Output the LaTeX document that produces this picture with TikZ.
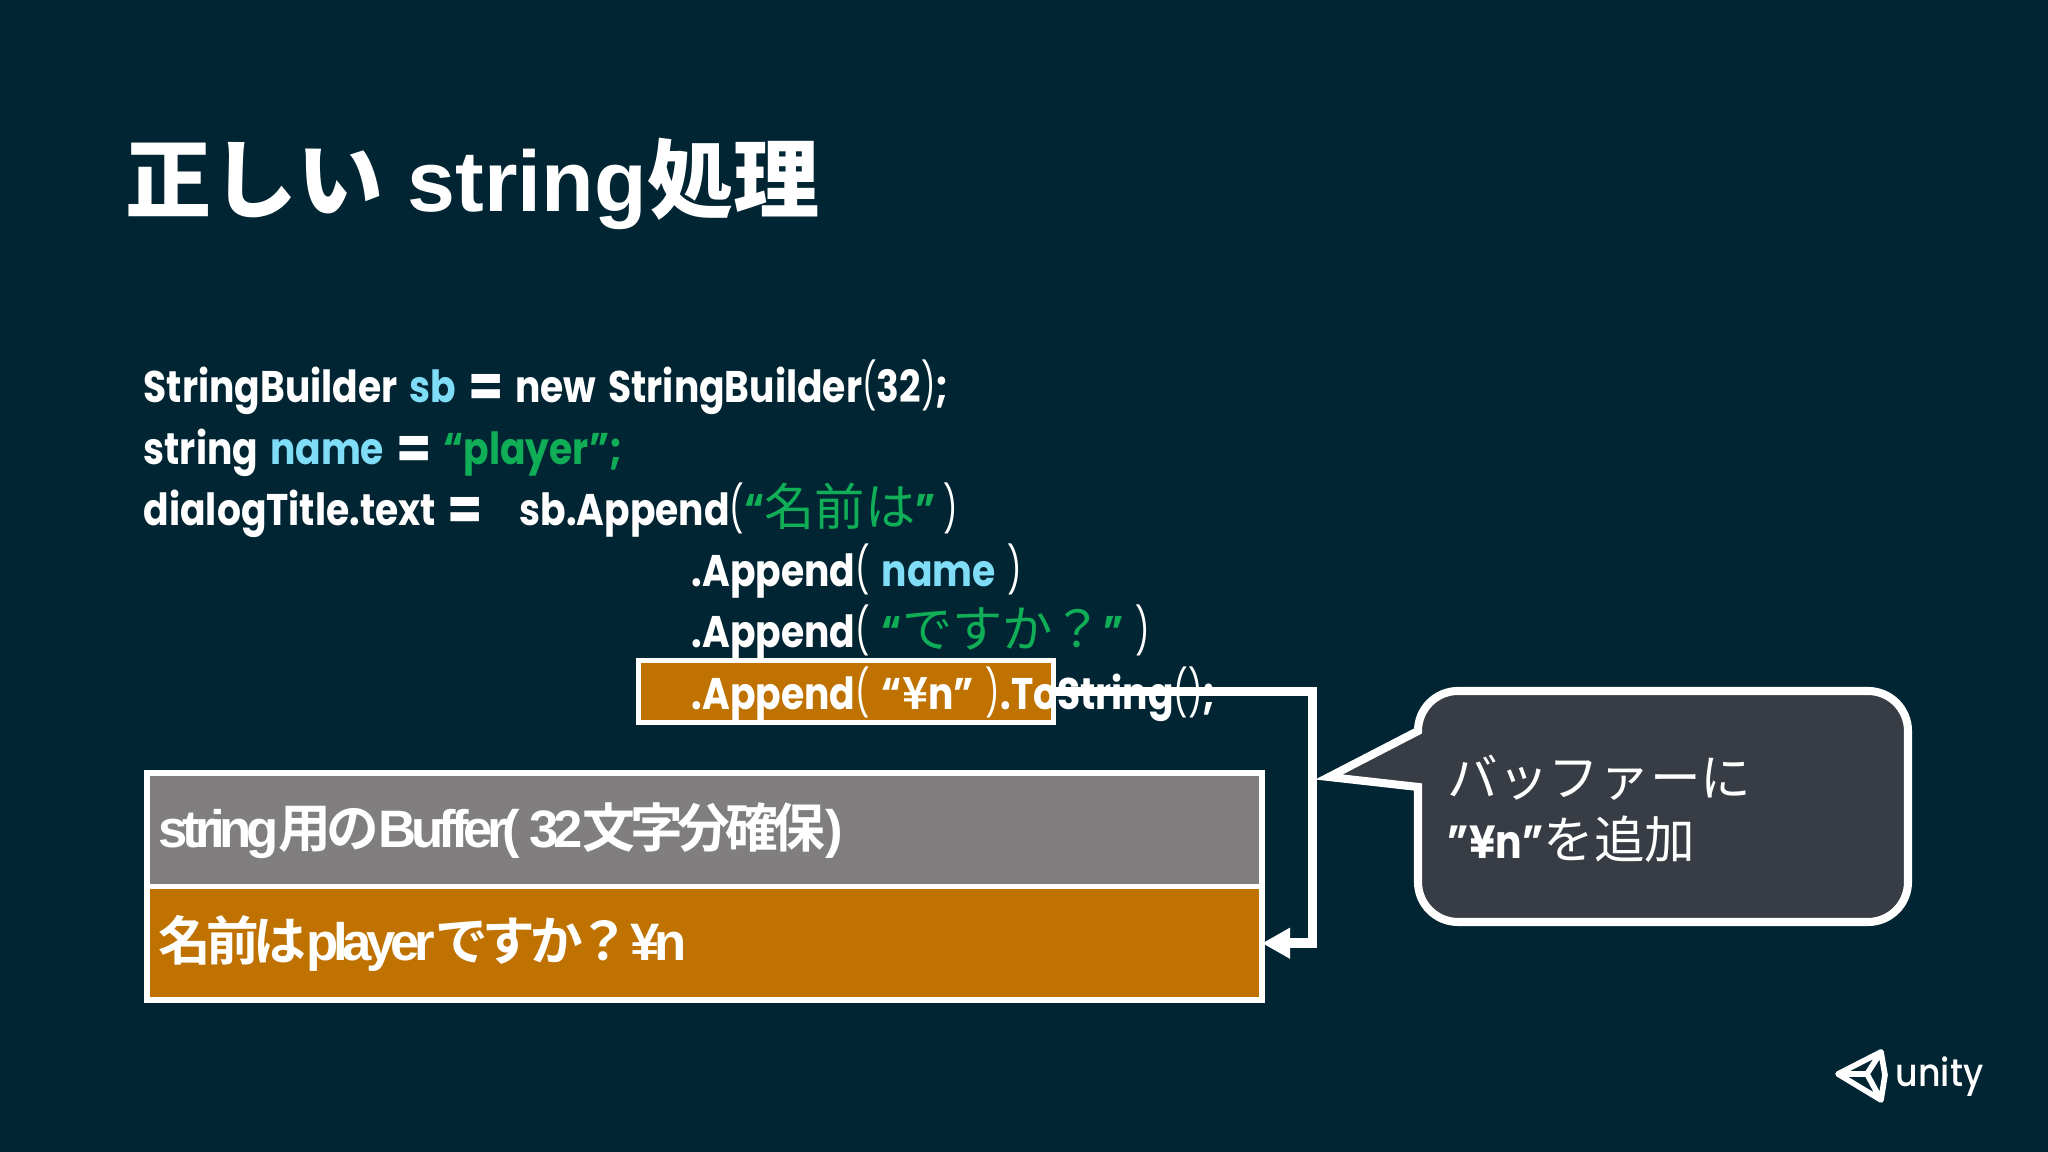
\documentclass[tikz,border=0pt]{standalone}
\usepackage{fontspec}
\setmainfont{Liberation Sans}
\newfontfamily\cjkfont{Noto Sans CJK JP}
\newfontfamily\cjkbold{Noto Sans CJK JP Bold}
\newfontfamily\codefont[FakeStretch=0.85,WordSpace=1.5]{Poppins Bold}
\newfontfamily\parenfont[FakeStretch=0.7]{Poppins}
\newfontfamily\buffont[LetterSpace=-10]{Liberation Sans Bold}
\newfontfamily\bufcjk[LetterSpace=-10]{Noto Sans CJK JP Bold}
\newfontfamily\logofont[FakeStretch=0.9]{Poppins Medium}
\usepackage{tikz}
\usetikzlibrary{arrows.meta,positioning,calc}
\definecolor{slidebg}{HTML}{012532}
\definecolor{bufgray}{HTML}{807E7F}
\definecolor{bufamber}{HTML}{BF7200}
\definecolor{varblue}{HTML}{7FDDF7}
\definecolor{strgreen}{HTML}{0FAE57}
\definecolor{calloutfill}{HTML}{383D45}
\newcommand{\jb}[1]{{\cjkbold #1}}
\newcommand{\jc}[1]{{\fontsize{14.3}{14.3}\selectfont\cjkfont #1}}
\newcommand{\jf}[1]{{\bufcjk #1}}
\newcommand{\vn}[1]{\textcolor{varblue}{#1}}
\newcommand{\st}[1]{\textcolor{strgreen}{#1}}
\newcommand{\lp}{{\fontsize{13}{13}\selectfont\parenfont(}}
\newcommand{\rp}{{\fontsize{13}{13}\selectfont\parenfont)}}
\newcommand{\eqs}{\raisebox{-1.4pt}{\fontsize{17}{12}\selectfont =}}
\begin{document}
\begin{tikzpicture}
  [
  text=white, line join=miter, >=Stealth,
  titletext/.style={anchor=base west, inner sep=0pt, font=\fontsize{24.5}{24.5}\selectfont\bfseries},
  codeline/.style={anchor=base west, inner sep=0pt, font=\fontsize{12.6}{12.6}\selectfont\codefont},
  buftext/.style={anchor=base west, inner sep=0pt, font=\fontsize{15}{15}\selectfont\buffont},
  saytext/.style={anchor=base west, inner sep=0pt, font=\fontsize{14.4}{14.4}\selectfont\cjkfont},
  bufbox/.style={rectangle, draw=white, line width=1.6pt, inner sep=0pt, outer sep=0pt, minimum width=11.15cm, minimum height=1.135cm},
  ]

  \useasboundingbox (0,0) rectangle (20.48,11.52);
  \fill[slidebg] (0,0) rectangle (20.48,11.52);

  \node[titletext] (title) at (1.25,9.40) {\jb{正しい} string\jb{処理}};

  % highlight goes under the code
  \node[rectangle, draw=white, fill=bufamber, line width=1.6pt, inner sep=0pt,
    minimum width=4.15cm, minimum height=0.62cm] (hilite) at (8.46,4.605) {};

  \node[codeline] (line1) at (1.43,7.49) {StringBuilder \vn{sb} \eqs{} new StringBuilder\lp 32\rp;};
  \node[codeline] (line2) at (1.43,6.87) {string \vn{name} \eqs{} \st{“player”;}};
  \node[codeline] (line3) at (1.43,6.26) {dialogTitle.text \eqs};
  \node[codeline] (line3b) at (5.19,6.26) {sb.Append\lp\st{“\jc{名前は}”}\,\rp};
  \node[codeline] (line4) at (6.91,5.65) {.Append\lp{} \vn{name} \rp};
  \node[codeline] (line5) at (6.91,5.04) {.Append\lp{} \st{“\jc{ですか？}”} \rp};
  \node[codeline] (line6) at (6.91,4.42) {.Append\lp{} “\jb{¥}n” \rp.ToString\lp\rp;};

  \node[bufbox, fill=bufgray, anchor=north west] (bufhead) at (1.47,3.79) {};
  \node[bufbox, fill=bufamber, anchor=north west] (bufbody) at (bufhead.south west) {};
  \node[buftext] (headtext) at (1.58,3.04) {string\jf{用の}Buffer( 32\jf{文字分確保})};
  \node[buftext] (bodytext) at (1.58,1.91) {\jf{名前は}player\jf{ですか？}¥n};

  \coordinate (corner) at ($(bufbody.east)+(0.505,0)$);
  \draw[white, line width=2.7pt, -{Triangle[length=0.28cm,width=0.29cm]}]
    (hilite.east) -| (corner) -- (bufbody.east);

  % speech bubble
  \coordinate (tip) at (13.29,3.75);
  \draw[draw=white, fill=calloutfill, line width=2.3pt]
    (14.18,4.21) arc (180:90:0.40) -- (18.68,4.61) arc (90:0:0.40)
    -- (19.08,2.70) arc (0:-90:0.40) -- (14.58,2.30) arc (270:180:0.40)
    -- (14.18,3.65) -- (tip) -- cycle;
  \node[saytext] (say1) at (14.47,3.55) {バッファーに};
  \node[saytext] (say2) at (14.47,2.93) {{\fontsize{13.2}{13.2}\selectfont\codefont ”¥n”}を追加};

  % logo
  \coordinate (hub) at (18.67,0.78);
  \draw[white, line width=1.6pt, line join=round]
    (18.38,0.78) -- (18.81,1.00) -- (18.85,0.77) -- (18.81,0.52) -- cycle
    (hub) -- (18.38,0.78) (hub) -- (18.81,1.00) (hub) -- (18.81,0.52);
  \node[anchor=base west, inner sep=0pt, font=\fontsize{11}{11}\selectfont\logofont] (logotext) at (18.95,0.65) {unity};
\end{tikzpicture}
\end{document}
